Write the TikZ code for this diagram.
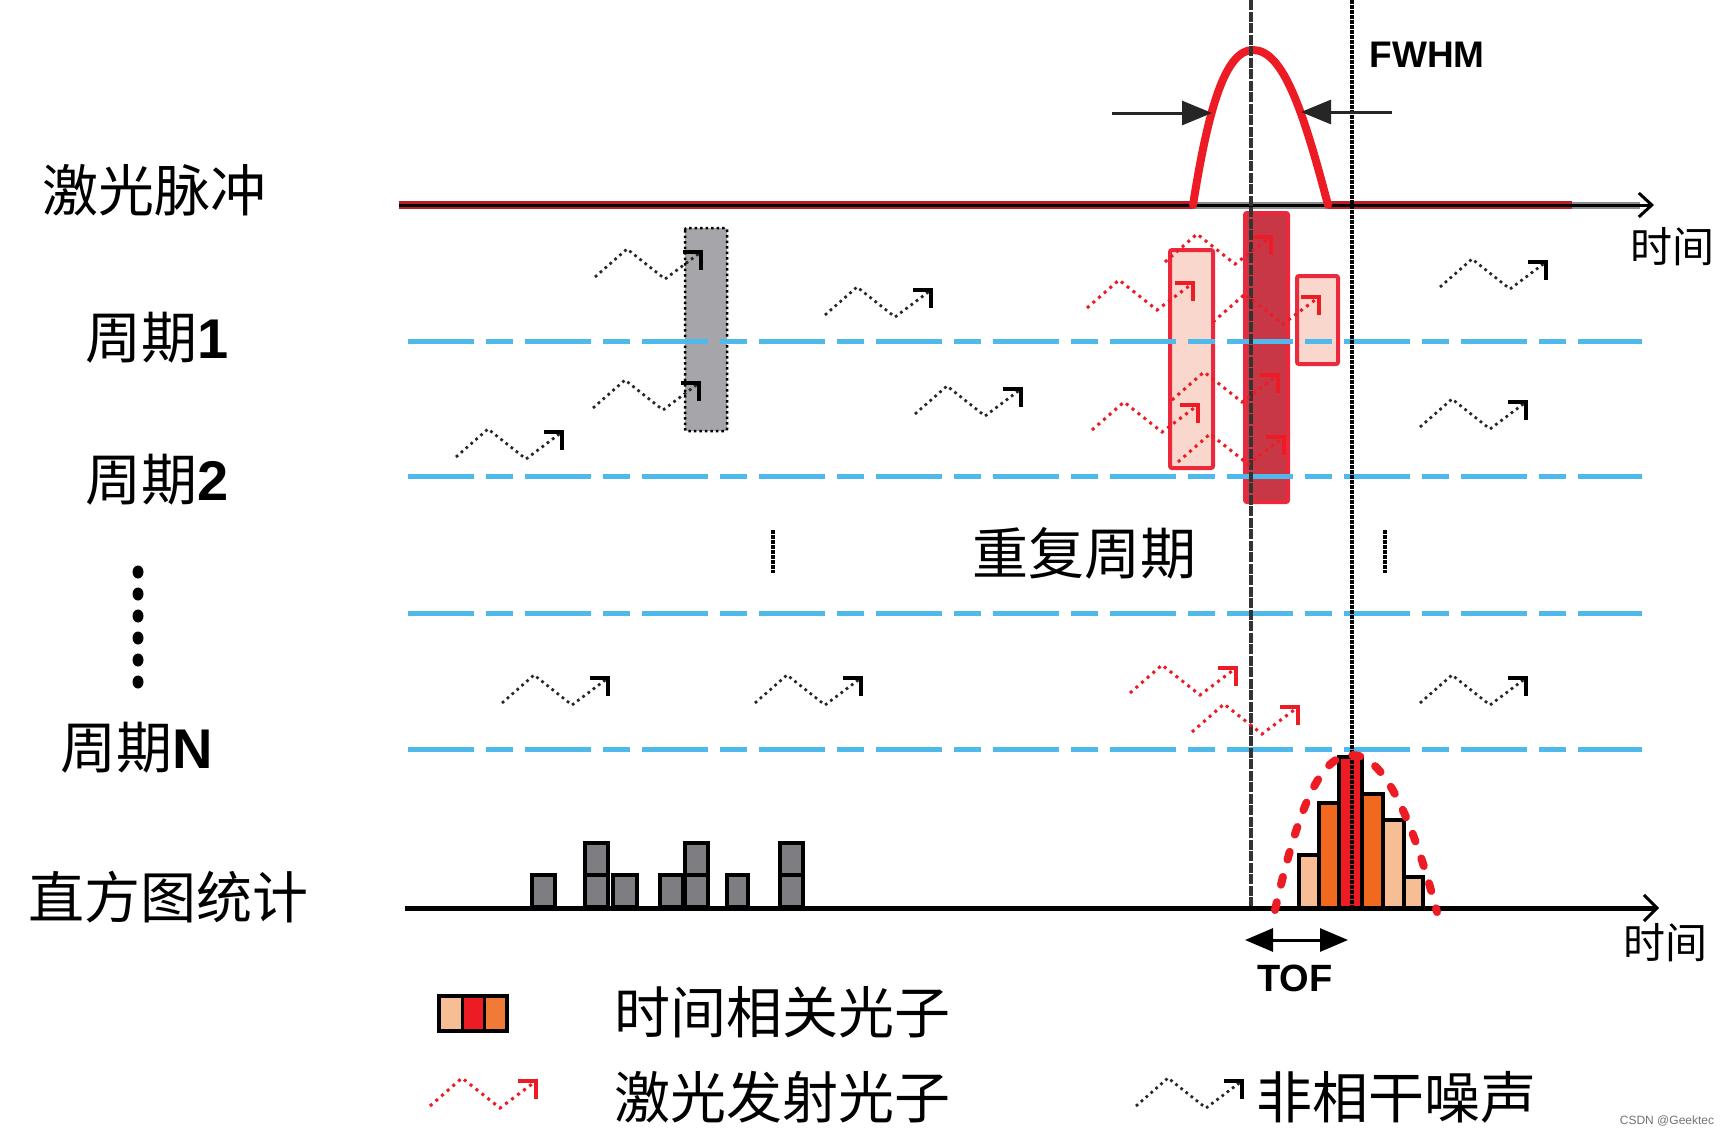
\documentclass[tikz,border=0pt]{standalone}
\usepackage{fontspec}
\setmainfont{Liberation Sans}
\newfontfamily\cjk{Noto Sans CJK SC}
\usetikzlibrary{arrows.meta}
\definecolor{cblue}{RGB}{80,185,235}
\definecolor{cred}{RGB}{237,28,36}
\definecolor{cbase}{RGB}{185,30,40}
\definecolor{cgraybox}{RGB}{165,165,170}
\definecolor{cpink}{RGB}{250,215,205}
\definecolor{cboxred}{RGB}{235,40,60}
\definecolor{cdark}{RGB}{200,55,70}
\definecolor{chgray}{RGB}{125,125,130}
\definecolor{clight}{RGB}{247,190,150}
\definecolor{corange}{RGB}{240,105,30}
\tikzset{
  noisepath/.style={draw=black!85,line width=2.7pt,dash pattern=on 2.7pt off 3.8pt},
  laserpath/.style={draw=cred,line width=3pt,dash pattern=on 3pt off 4.5pt},
  noisecorner/.style={draw=black,line width=4pt,line cap=butt,line join=miter},
  lasercorner/.style={draw=cred,line width=4pt,line cap=butt,line join=miter},
  blueline/.style={draw=cblue,line width=5pt,dash pattern=on 66pt off 12pt on 27pt off 12pt},
  cjklbl/.style={inner sep=0pt,font=\cjk\fontsize{56}{60}\selectfont},
  timelbl/.style={inner sep=0pt,font=\cjk\fontsize{42}{46}\selectfont},
  boldlbl/.style={inner sep=0pt,font=\bfseries\fontsize{37}{40}\selectfont},
  hbar/.style={draw=black,line width=4.5pt,line join=miter},
  pinkbox/.style={draw=cboxred,fill=cpink,line width=4pt,rounded corners=2pt},
  vline/.style={line width=4.5pt,draw=black,dash pattern=on 3.5pt off 1.5pt},
}
\newcommand\photon[3]{%
  \draw[#3path] (#1,#2) -- ++(32,-28) -- ++(38,30) -- ++(36,-27);
  \draw[#3corner] (#1+88,#2-25) -- (#1+106,#2-25) -- (#1+106,#2-7);
}
\begin{document}
\begin{tikzpicture}[x=1pt,y=-1pt]
\useasboundingbox (0,0) rectangle (1729,1135);
\fill[white] (0,0) rectangle (1729,1135);

% boxes
\draw[fill=cgraybox,draw=black,line width=2.5pt,dash pattern=on 2.5pt off 3pt,rounded corners=2pt] (685,228) rectangle (727,431);
\draw[pinkbox] (1170,250) rectangle (1213,468);
\draw[draw=cboxred,fill=cdark,line width=4pt,rounded corners=2pt] (1245,213) rectangle (1288,502);
\draw[pinkbox] (1297,276) rectangle (1338,364);

% blue dashed lines
\foreach \yy in {341,476,613,749} \draw[blueline] (408,\yy) -- (1642,\yy);

% top axis
\draw[cbase,line width=8pt] (399,205) -- (1193,205);
\draw[cbase,line width=8pt] (1328,205) -- (1572,205);
\draw[black!45,line width=7pt] (1193,205) -- (1328,205);
\draw[black!45,line width=7pt] (1572,205) -- (1640,205);
\coordinate (ta0) at (399,205);
\coordinate (ta1) at (1654,205);
\draw[black,line width=3pt,-{Straight Barb[length=13pt,width=24pt,line width=3pt]}] (ta0) -- (ta1);

% pulse
\draw[cred,line width=8pt,line cap=round] (1193,205) .. controls (1208,110) and (1225,50) .. (1253,50) .. controls (1283,50) and (1303,110) .. (1328,205);

% vertical reference lines
\draw[black!80,line width=3.2pt,dash pattern=on 10pt off 1.5pt] (1251,0) -- (1251,908);
\draw[vline] (1352,0) -- (1352,908);

% FWHM arrows
\coordinate (fl0) at (1112,113);
\coordinate (fl1) at (1212,113);
\coordinate (fr0) at (1392,112);
\coordinate (fr1) at (1301,112);
\draw[black!85,line width=3pt,-{Triangle[length=30pt,width=24pt]}] (fl0) -- (fl1);
\draw[black!85,line width=3pt,-{Triangle[length=30pt,width=24pt]}] (fr0) -- (fr1);
\node[boldlbl] (fwhm) at (1427,55) {FWHM};

% noise photons
\photon{595}{277}{noise}
\photon{593}{408}{noise}
\photon{456}{457}{noise}
\photon{825}{315}{noise}
\photon{915}{414}{noise}
\photon{1440}{287}{noise}
\photon{1420}{427}{noise}
\photon{502}{703}{noise}
\photon{755}{703}{noise}
\photon{1420}{703}{noise}

% laser photons
\photon{1087}{308}{laser}
\photon{1165}{262}{laser}
\photon{1213}{322}{laser}
\photon{1092}{430}{laser}
\photon{1172}{400}{laser}
\photon{1178}{462}{laser}
\photon{1130}{693}{laser}
\photon{1192}{732}{laser}

% repeat marks
\draw[vline] (773,530) -- (773,573);
\draw[vline] (1385,530) -- (1385,573);
\foreach \yy in {572,594,616,638,660,682} \fill[black] (138,\yy) ellipse (5.5 and 6.5);

% left histogram
\foreach \xa/\xb in {532/555,613/637,660/683,727/748} \draw[hbar,fill=chgray] (\xa,907) rectangle (\xb,875);
\foreach \xa/\xb in {585/608,685/708,780/803} {
  \draw[hbar,fill=chgray] (\xa,907) rectangle (\xb,875);
  \draw[hbar,fill=chgray] (\xa,875) rectangle (\xb,843);
}

% right histogram
\draw[hbar,fill=clight] (1299,908) rectangle (1319,855);
\draw[hbar,fill=corange] (1319,908) rectangle (1339,803);
\draw[hbar,fill=cred] (1339,908) rectangle (1362,757);
\draw[hbar,fill=corange] (1362,908) rectangle (1383,794);
\draw[hbar,fill=clight] (1383,908) rectangle (1404,820);
\draw[hbar,fill=clight] (1404,908) rectangle (1423,877);
\draw[vline] (1352,740) -- (1352,908);

% bottom axis
\coordinate (ba0) at (405,908);
\coordinate (ba1) at (1659,908);
\draw[black,line width=5pt,-{Straight Barb[length=13pt,width=26pt,line width=3pt]}] (ba0) -- (ba1);

% gaussian fit
\draw[cred,line width=8pt,line cap=round,dash pattern=on 8pt off 18pt] (1275,910) .. controls (1300,800) and (1322,755) .. (1352,755) .. controls (1382,755) and (1410,810) .. (1437,912);

% TOF
\coordinate (tof0) at (1245,940);
\coordinate (tof1) at (1348,940);
\draw[black,line width=3pt,{Triangle[length=28pt,width=23pt]}-{Triangle[length=28pt,width=23pt]}] (tof0) -- (tof1);
\node[boldlbl,font=\bfseries\fontsize{38}{40}\selectfont] (tof) at (1295,978) {TOF};

% left labels
\node[cjklbl] (pulse) at (154,190) {激光脉冲};
\node[cjklbl] (p1) at (157,338) {周期{\rmfamily\bfseries 1}};
\node[cjklbl] (p2) at (157,480) {周期{\rmfamily\bfseries 2}};
\node[cjklbl] (pN) at (137,748) {周期{\rmfamily\bfseries N}};
\node[cjklbl] (hist) at (168,897) {直方图统计};
\node[cjklbl] (rep) at (1084,553) {重复周期};
\node[timelbl] (t1) at (1672,247) {时间};
\node[timelbl] (t2) at (1665,943) {时间};

% legend
\draw[black,line width=4pt,fill=clight] (439,996) rectangle (507,1031);
\fill[cred] (462,996) rectangle (484,1031);
\fill[corange!80!clight] (484,996) rectangle (507,1031);
\draw[black,line width=3pt] (462,996) -- (462,1031) (484,996) -- (484,1031);
\draw[black,line width=4pt] (439,996) rectangle (507,1031);
\node[cjklbl] (lg1) at (782,1012) {时间相关光子};
\photon{430}{1106}{laser}
\node[cjklbl] (lg2) at (782,1097) {激光发射光子};
\photon{1136}{1106}{noise}
\node[cjklbl] (lg3) at (1396,1097) {非相干噪声};
\node[inner sep=0pt,text=black!55,font=\fontsize{12}{13}\selectfont] (wm) at (1667,1121) {CSDN @Geektec};
\end{tikzpicture}
\end{document}
